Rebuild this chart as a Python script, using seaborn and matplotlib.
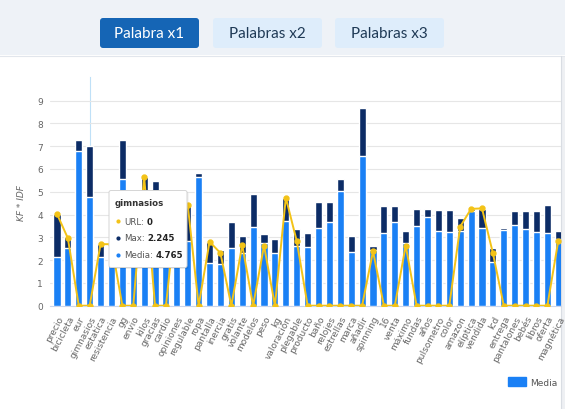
import matplotlib
matplotlib.use('Agg')
import matplotlib.pyplot as plt
import seaborn as sns
from matplotlib.patches import Rectangle, FancyBboxPatch, Patch

# Chart data
words = ['precio', 'bicicleta', 'eur', 'gimnasios', 'estatica', 'resistencia', 'gg', 'envio',
         'kilos', 'gracias', 'cardio', 'opiniones', 'regulable', 'ropa', 'pantalla', 'inercia',
         'gratis', 'volante', 'modelos', 'peso', 'kg', 'valoración', 'plegable', 'producto',
         'baño', 'relojes', 'estrellas', 'marca', 'añadir', 'spinning', '16', 'venta',
         'máximo', 'fundas', 'años', 'pulsometro', 'color', 'amazon', 'elíptica', 'vendida',
         'lcd', 'entrega', 'pantalones', 'bebés', 'libros', 'oferta', 'magnética']
media = [2.12, 2.52, 6.81, 4.765, 2.15, 1.9, 5.56, 2.6,
         4.3, 4.0, 2.3, 2.9, 2.83, 5.64, 1.87, 1.83,
         2.53, 2.31, 3.44, 2.75, 2.30, 3.73, 2.64, 2.56,
         3.41, 3.66, 5.02, 2.34, 6.59, 2.45, 3.19, 3.66,
         2.75, 3.51, 3.91, 3.26, 3.22, 3.29, 4.17, 3.40,
         1.90, 3.32, 3.56, 3.37, 3.25, 3.18, 2.93]
max_vals = [1.91, 0.48, 0.44, 2.245, 0.55, 0.8, 1.69, 1.0,
            1.36, 1.49, 0.8, 1.6, 1.59, 0.19, 0.94, 0.63,
            1.13, 0.76, 1.45, 0.38, 0.63, 0.99, 0.74, 0.63,
            1.13, 0.88, 0.54, 0.73, 2.08, 0.19, 1.17, 0.70,
            0.54, 0.74, 0.34, 0.96, 1.00, 0.56, 0.08, 0.85,
            0.63, 0.11, 0.61, 0.80, 0.92, 1.24, 0.33]
url = [4.03, 2.96, 0, 0, 2.70, 2.70, 0, 0,
       5.64, 0, 0, 4.5, 4.42, 0, 2.81, 2.31,
       0, 2.66, 0, 2.64, 0, 4.74, 2.84, 0,
       0, 0, 0, 0, 0, 2.39, 0, 0,
       2.64, 0, 0, 0, 0, 3.47, 4.25, 4.27,
       2.31, 0, 0, 0, 0, 0, 2.85]
total = [m + x for m, x in zip(media, max_vals)]

light_blue = '#1a80f5'
dark_blue = '#0c2c66'
yellow = '#f3c317'

W, H = 565, 410
fig = plt.figure(figsize=(W / 100, H / 100), dpi=100, facecolor='white')

# page background (top band, buttons, right border)
bg = fig.add_axes([0, 0, 1, 1], zorder=-1)
bg.set_xlim(0, W)
bg.set_ylim(H, 0)
bg.axis('off')
bg.add_patch(Rectangle((0, 0), W, 56, color='#eef2f7', lw=0))
bg.plot([0, W], [56.5, 56.5], color='#e2e6ec', lw=0.8)
bg.add_patch(Rectangle((561, 57), 4, H - 57, color='#eef0f3', lw=0))
bg.plot([561, 561], [57, H], color='#d9dde3', lw=0.8)
# hover crosshair on "gimnasios"
bg.plot([89.7, 89.7], [78, 306], color='#bfe0f7', lw=0.8)

buttons = [('Palabra x1', 100, 199, True), ('Palabras x2', 213, 322, False), ('Palabras x3', 335, 444, False)]
for label, x0, x1, active in buttons:
    face = '#1565b5' if active else '#deedfb'
    tcol = 'white' if active else '#1f3a56'
    bg.add_patch(FancyBboxPatch((x0, 19), x1 - x0, 30, boxstyle='round,pad=0,rounding_size=3',
                                fc=face, ec='none'))
    bg.text((x0 + x1) / 2, 34.5, label, ha='center', va='center', color=tcol,
            fontsize=11, family='Lato')

# main chart
sns.set_style('white')
ax = fig.add_axes([50 / W, 1 - 306.7 / H, (561 - 50) / W, (306.7 - 95) / H])
ax.set_facecolor('none')
sns.barplot(x=words, y=total, color=dark_blue, saturation=1, width=0.65,
            errorbar=None, ax=ax, zorder=2)
sns.barplot(x=words, y=media, color=light_blue, saturation=1, width=0.65,
            errorbar=None, ax=ax, zorder=3)
sns.pointplot(x=words, y=url, color=yellow, markers='o', errorbar=None, ax=ax,
              markersize=3.5, linewidth=1.4, zorder=4)

ax.set_ylim(0, 9.29)
ax.set_xlim(-0.64, 46.25)
ax.set_yticks(range(10))
ax.yaxis.grid(True, color='#e6e6e6', lw=0.8)
ax.set_axisbelow(True)
for s in ['top', 'right', 'left']:
    ax.spines[s].set_visible(False)
ax.spines['bottom'].set_color('#ccd6eb')
ax.spines['bottom'].set_linewidth(0.8)
ax.tick_params(axis='y', length=0, pad=5, labelsize=6.5, labelcolor='#666666')
ax.tick_params(axis='x', length=0, pad=6, labelsize=6.5, labelcolor='#666666')
ax.set_xticks(range(len(words)))
ax.set_xticklabels(words, rotation=62, ha='right', rotation_mode='anchor')
ax.set_xlabel('')
ax.set_ylabel('')
fig.text(22 / W, 1 - 203 / H, 'KF * IDF', rotation=90, ha='center', va='center',
         fontsize=6.5, style='italic', color='#666666')

fig.legend([Patch(color=light_blue)], ['Media'], loc='center left',
           bbox_to_anchor=(500 / W, 1 - 383 / H), frameon=False, fontsize=6.5,
           handlelength=2.0, handleheight=1.1, handletextpad=0.4, labelcolor='#555555')

# tooltip overlay
ov = fig.add_axes([0, 0, 1, 1], zorder=5)
ov.set_facecolor('none')
ov.set_xlim(0, W)
ov.set_ylim(H, 0)
ov.axis('off')
ov.add_patch(FancyBboxPatch((110.5, 193), 78, 77, boxstyle='round,pad=0,rounding_size=2',
                            fc='#000000', ec='none', alpha=0.08))
ov.add_patch(FancyBboxPatch((109, 191.5), 78, 77, boxstyle='round,pad=0,rounding_size=2',
                            fc='white', ec='#d5d5d5', lw=0.7))
ov.text(115, 203.5, 'gimnasios', fontsize=6.2, weight='bold', color='#333333', va='center')
rows = [('URL:', '0', yellow, 222.3), ('Max:', '2.245', dark_blue, 239),
        ('Media:', '4.765', light_blue, 255.7)]
fig.canvas.draw()
renderer = fig.canvas.get_renderer()
for name, val, col, y in rows:
    ov.plot(117.5, y, 'o', color=col, markersize=2)
    t = ov.text(124, y, name, fontsize=6.2, color='#555555', va='center')
    # put the bold value right after the label
    x_end = t.get_window_extent(renderer).x1
    xv = ov.transData.inverted().transform((x_end, 0))[0] + 2.5
    ov.text(xv, y, val, fontsize=6.2, color='#222222', weight='bold', va='center')

fig.savefig('out.png', dpi=100)
